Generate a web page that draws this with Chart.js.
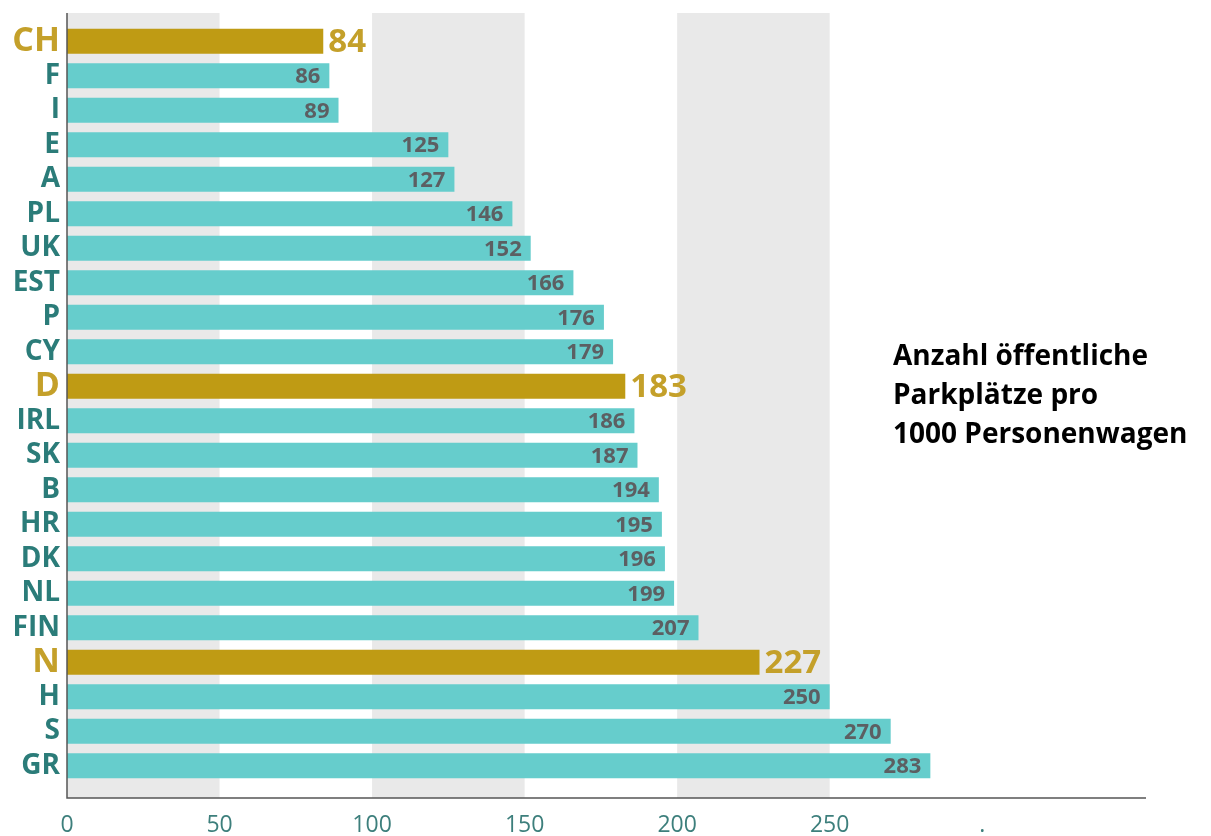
<!DOCTYPE html>
<html>
<head>
<meta charset="utf-8">
<script src="https://cdn.jsdelivr.net/npm/chart.js@4.4.1/dist/chart.umd.min.js"></script>
<style>
    html, body { margin: 0; padding: 0; background: #ffffff; }
    #wrap { width: 1211px; height: 836px; position: relative; }
</style>
</head>
<body>
<div id="wrap"><canvas id="chart" width="1211" height="836"></canvas></div>
<script>
// datos del grafico
const countries = ['CH', 'F', 'I', 'E', 'A', 'PL', 'UK', 'EST', 'P', 'CY', 'D', 'IRL', 'SK', 'B', 'HR', 'DK', 'NL', 'FIN', 'N', 'H', 'S', 'GR'];
const parkingSpaces = [84, 86, 89, 125, 127, 146, 152, 166, 176, 179, 183, 186, 187, 194, 195, 196, 199, 207, 227, 250, 270, 283];
const highlighted = ['CH', 'D', 'N'];
const xTickLabels = { 0: '0', 50: '50', 100: '100', 150: '150', 200: '200', 250: '250', 300: '.' };
const titleLines = ['Anzahl öffentliche', 'Parkplätze pro', '1000 Personenwagen'];

const TEAL = '#66cdcc';
const GOLD = '#bf9b14';
const GOLD_TEXT = '#c4a02a';
const TEAL_TEXT = '#2b7c79';
const FONT = "'Open Sans', sans-serif";

function isHi(i) {
    return highlighted.indexOf(countries[i]) >= 0;
}

// bandas grises y ejes
const backgroundPlugin = {
    id: 'bands',
    beforeDatasetsDraw(chart) {
        const ctx = chart.ctx;
        const x = chart.scales.x;
        const area = chart.chartArea;
        const top = area.top - 11;
        const bottom = area.bottom + 15;
        ctx.save();
        ctx.fillStyle = '#e9e9e9';
        [0, 100, 200].forEach(function (v) {
            const x0 = x.getPixelForValue(v);
            const x1 = x.getPixelForValue(v + 50);
            ctx.fillRect(x0, top, x1 - x0, bottom - top);
        });
        ctx.restore();
    },
    afterDatasetsDraw(chart) {
        const ctx = chart.ctx;
        const area = chart.chartArea;
        const top = area.top - 11;
        const bottom = area.bottom + 15;
        ctx.save();
        ctx.strokeStyle = '#555555';
        ctx.lineWidth = 1.5;
        ctx.beginPath();
        ctx.moveTo(area.left, top);
        ctx.lineTo(area.left, bottom);
        ctx.lineTo(area.right - 4, bottom);
        ctx.stroke();

        // etiquetas de valores
        const meta = chart.getDatasetMeta(0);
        meta.data.forEach(function (bar, i) {
            const value = parkingSpaces[i];
            ctx.textBaseline = 'middle';
            if (isHi(i)) {
                ctx.font = 'bold 33px ' + FONT;
                ctx.fillStyle = GOLD_TEXT;
                ctx.textAlign = 'left';
                ctx.fillText(value, bar.x + 5, bar.y + 1);
            } else {
                ctx.font = 'bold 22px ' + FONT;
                ctx.fillStyle = '#5c5f62';
                ctx.textAlign = 'right';
                ctx.fillText(value, bar.x - 9, bar.y + 1);
            }
        });

        // titulo a la derecha
        ctx.font = 'bold 28px ' + FONT;
        ctx.fillStyle = '#000000';
        ctx.textAlign = 'left';
        titleLines.forEach(function (line, i) {
            ctx.fillText(line, 893, 357 + i * 39);
        });
        ctx.restore();
    }
};

const ctx = document.getElementById('chart').getContext('2d');
const chart = new Chart(ctx, {
    type: 'bar',
    data: {
        labels: countries,
        datasets: [{
            data: parkingSpaces,
            backgroundColor: parkingSpaces.map((v, i) => isHi(i) ? GOLD : TEAL),
            borderWidth: 0,
            barPercentage: 0.72,
            categoryPercentage: 1
        }]
    },
    options: {
        indexAxis: 'y',
        responsive: false,
        animation: false,
        layout: { padding: { top: 24, right: 61, bottom: 0, left: 0 } },
        plugins: {
            legend: { display: false },
            tooltip: { enabled: false }
        },
        scales: {
            x: {
                min: 0,
                max: 355,
                grid: { display: false, drawTicks: false },
                border: { display: false },
                afterFit: function (s) { s.height = 53; },
                ticks: {
                    stepSize: 50,
                    padding: 29,
                    color: '#3d7f7c',
                    font: { family: FONT, size: 23 },
                    callback: function (v) { return xTickLabels[v] !== undefined ? xTickLabels[v] : ''; }
                }
            },
            y: {
                grid: { display: false, drawTicks: false },
                border: { display: false },
                afterFit: function (s) { s.width = 67; },
                ticks: {
                    autoSkip: false,
                    padding: 7,
                    color: function (c) { return isHi(c.index) ? GOLD_TEXT : TEAL_TEXT; },
                    font: function (c) {
                        return { family: FONT, weight: 'bold', size: isHi(c.index) ? 34 : 28 };
                    }
                }
            }
        }
    },
    plugins: [backgroundPlugin]
});
</script>
</body>
</html>
